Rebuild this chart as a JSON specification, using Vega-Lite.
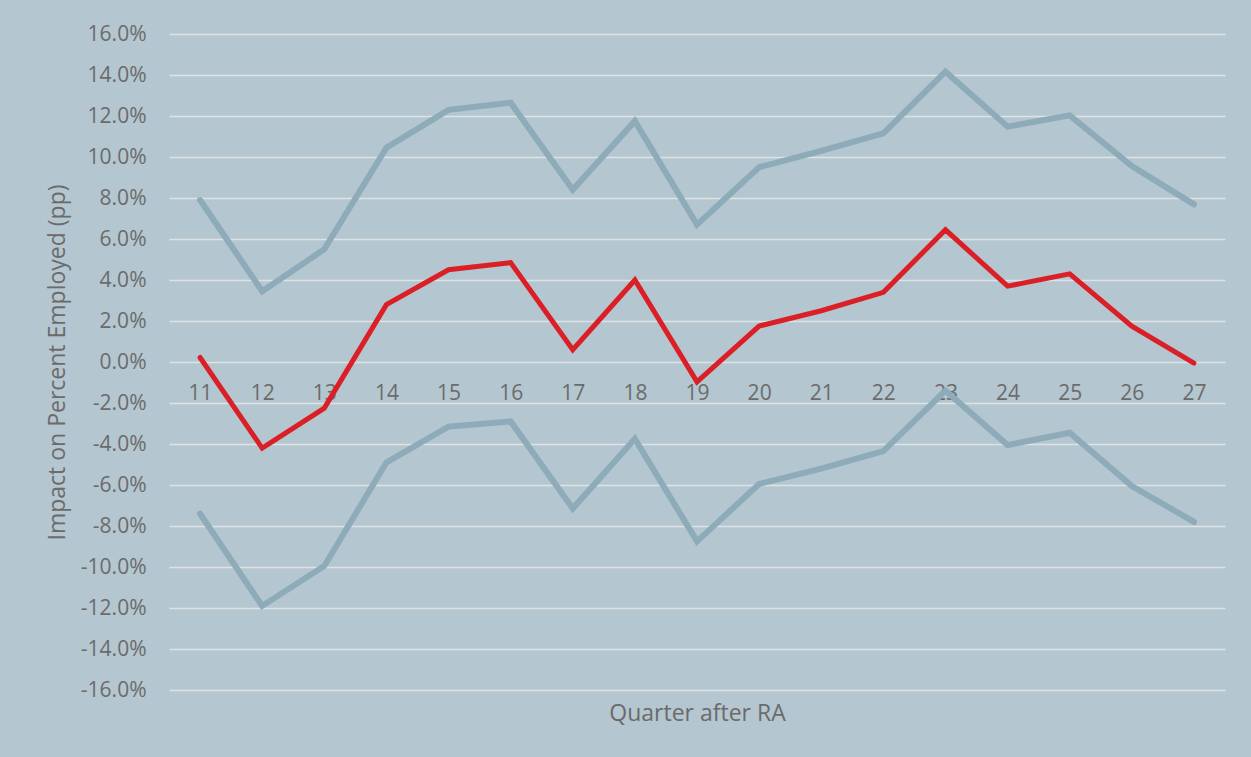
{
  "$schema": "https://vega.github.io/schema/vega-lite/v6.json",
  "width": 1056,
  "height": 656,
  "autosize": {"type": "none"},
  "padding": {"left": 169, "top": 34, "right": 26, "bottom": 67},
  "background": "#b4c6cf",
  "config": {
    "view": {"stroke": null},
    "font": "Open Sans",
    "axis": {"labelFont": "Open Sans", "titleFont": "Open Sans", "labelColor": "#6b6b6b", "titleColor": "#6b6b6b", "labelFontSize": 21, "titleFontSize": 23, "titleFontWeight": "normal"}
  },
  "data": {
    "values": [
      {"q": "11", "s": "upper", "v": 0.079}, {"q": "12", "s": "upper", "v": 0.0345}, {"q": "13", "s": "upper", "v": 0.055},
      {"q": "14", "s": "upper", "v": 0.1045}, {"q": "15", "s": "upper", "v": 0.123}, {"q": "16", "s": "upper", "v": 0.1265},
      {"q": "17", "s": "upper", "v": 0.084}, {"q": "18", "s": "upper", "v": 0.1175}, {"q": "19", "s": "upper", "v": 0.067},
      {"q": "20", "s": "upper", "v": 0.095}, {"q": "21", "s": "upper", "v": 0.103}, {"q": "22", "s": "upper", "v": 0.1115},
      {"q": "23", "s": "upper", "v": 0.1416}, {"q": "24", "s": "upper", "v": 0.1148}, {"q": "25", "s": "upper", "v": 0.1203},
      {"q": "26", "s": "upper", "v": 0.0956}, {"q": "27", "s": "upper", "v": 0.0769},
      {"q": "11", "s": "lower", "v": -0.074}, {"q": "12", "s": "lower", "v": -0.119}, {"q": "13", "s": "lower", "v": -0.0995},
      {"q": "14", "s": "lower", "v": -0.049}, {"q": "15", "s": "lower", "v": -0.0315}, {"q": "16", "s": "lower", "v": -0.029},
      {"q": "17", "s": "lower", "v": -0.0715}, {"q": "18", "s": "lower", "v": -0.0375}, {"q": "19", "s": "lower", "v": -0.0875},
      {"q": "20", "s": "lower", "v": -0.0595}, {"q": "21", "s": "lower", "v": -0.052}, {"q": "22", "s": "lower", "v": -0.0435},
      {"q": "23", "s": "lower", "v": -0.014}, {"q": "24", "s": "lower", "v": -0.0405}, {"q": "25", "s": "lower", "v": -0.0345},
      {"q": "26", "s": "lower", "v": -0.0605}, {"q": "27", "s": "lower", "v": -0.078},
      {"q": "11", "s": "estimate", "v": 0.0022}, {"q": "12", "s": "estimate", "v": -0.042}, {"q": "13", "s": "estimate", "v": -0.0225},
      {"q": "14", "s": "estimate", "v": 0.028}, {"q": "15", "s": "estimate", "v": 0.045}, {"q": "16", "s": "estimate", "v": 0.0485},
      {"q": "17", "s": "estimate", "v": 0.006}, {"q": "18", "s": "estimate", "v": 0.04}, {"q": "19", "s": "estimate", "v": -0.0097},
      {"q": "20", "s": "estimate", "v": 0.0175}, {"q": "21", "s": "estimate", "v": 0.025}, {"q": "22", "s": "estimate", "v": 0.034},
      {"q": "23", "s": "estimate", "v": 0.0645}, {"q": "24", "s": "estimate", "v": 0.037}, {"q": "25", "s": "estimate", "v": 0.043},
      {"q": "26", "s": "estimate", "v": 0.0175}, {"q": "27", "s": "estimate", "v": -0.0005}
    ]
  },
  "encoding": {
    "x": {
      "field": "q", "type": "ordinal", "sort": null,
      "scale": {"type": "point", "padding": 0.5},
      "axis": {"title": "Quarter after RA", "labelAngle": 0, "domain": false, "ticks": false, "grid": false, "offset": -328, "labelPadding": 20, "titleY": 351, "titleBaseline": "middle"}
    },
    "y": {
      "field": "v", "type": "quantitative",
      "scale": {"domain": [-0.16, 0.16], "nice": false, "zero": false},
      "axis": {"title": "Impact on Percent Employed (pp)", "labelExpr": "replace(format(datum.value, '.1%'), '\u2212', '-')", "values": [-0.16, -0.14, -0.12, -0.1, -0.08, -0.06, -0.04, -0.02, 0, 0.02, 0.04, 0.06, 0.08, 0.1, 0.12, 0.14, 0.16], "domain": false, "ticks": false, "labelPadding": 23, "gridColor": "#dde2e5", "gridWidth": 1.6, "titleX": -112, "titleY": 328, "titleAngle": 270, "titleAlign": "center", "titleBaseline": "middle"}
    }
  },
  "layer": [
    {
      "transform": [{"filter": "datum.s === 'upper'"}],
      "mark": {"type": "line", "color": "#8eabba", "strokeWidth": 6, "strokeJoin": "miter", "strokeCap": "round"}
    },
    {
      "transform": [{"filter": "datum.s === 'lower'"}],
      "mark": {"type": "line", "color": "#8eabba", "strokeWidth": 6, "strokeJoin": "miter", "strokeCap": "round"}
    },
    {
      "transform": [{"filter": "datum.s === 'estimate'"}],
      "mark": {"type": "line", "color": "#db1f26", "strokeWidth": 5, "strokeJoin": "miter", "strokeCap": "round"}
    }
  ]
}
